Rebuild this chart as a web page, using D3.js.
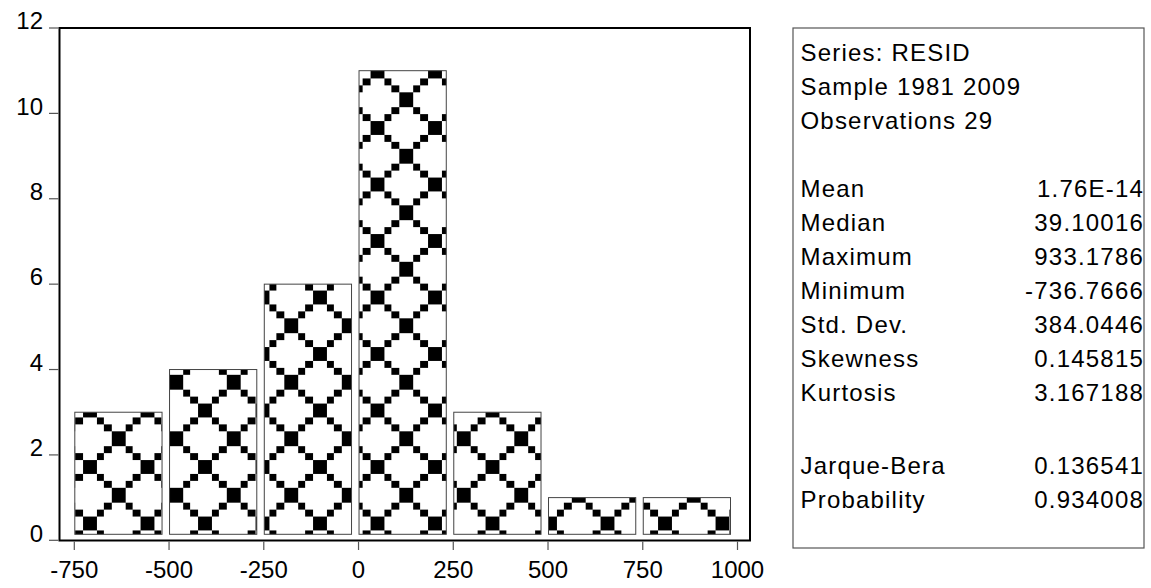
<!DOCTYPE html>
<html>
<head>
<meta charset="utf-8">
<script src="https://cdn.jsdelivr.net/npm/d3@7"></script>
<style>
  html, body { margin: 0; padding: 0; background: #fff; }
  svg { display: block; font-family: "Liberation Sans", Arial, sans-serif; }
</style>
</head>
<body>
<svg id="chart-svg" width="1151" height="588"></svg>
<script>
// Histogram data (residual bins)
const binStarts = [-750, -500, -250, 0, 250, 500, 750];
const binEnds = [-500, -250, 0, 250, 500, 750, 1000];
const counts = [3, 4, 6, 11, 3, 1, 1];

// Tick labels
const xTicks = [-750, -500, -250, 0, 250, 500, 750, 1000];
const yTicks = [0, 2, 4, 6, 8, 10, 12];

// Statistics box text
const headerLines = ["Series: RESID", "Sample 1981 2009", "Observations 29"];
const statLabels = ["Mean", "Median", "Maximum", "Minimum", "Std. Dev.", "Skewness", "Kurtosis"];
const statValues = ["1.76E-14", "39.10016", "933.1786", "-736.7666", "384.0446", "0.145815", "3.167188"];
const testLabels = ["Jarque-Bera", "Probability"];
const testValues = ["0.136541", "0.934008"];

const svg = d3.select('#chart-svg');

// Plot frame
const frame = {left: 59.5, right: 750, top: 28, bottom: 540.5};

// Scales
const xScale = d3.scaleLinear().domain([-750, 1000]).range([74.3, 737.5]);
const yScale = d3.scaleLinear().domain([0, 12]).range([540.3, 28]);

// Hatch pattern (diamond lattice of big squares joined by stepped small squares)
const W = 57.5, H = 56.5, big = 7.25;
const defs = svg.append("defs");
const pat = defs.append("pattern")
    .attr("id", "hatch")
    .attr("patternUnits", "userSpaceOnUse")
    .attr("x", 90).attr("y", 523.5)
    .attr("width", W).attr("height", H);

pat.append("rect").attr("width", W).attr("height", H).attr("fill", "#fff");

const squares = [];
// big squares at corners and centre
[[0, 0], [W, 0], [0, H], [W, H], [W / 2, H / 2]].forEach(([cx, cy]) => {
    squares.push({x: cx - big, y: cy - big, w: big * 2, h: big * 2});
});
// small squares along the four diagonals from centre to corners
const ax = (W / 2 - big * 2) / 2, ay = (H / 2 - big * 2) / 2;
[[1, 1], [-1, 1], [1, -1], [-1, -1]].forEach(([dx, dy]) => {
    for (let k = 0; k < 2; k++) {
        const ox = big + k * ax, oy = big + k * ay;
        const cx = dx > 0 ? ox : W - ox - ax;
        const cy = dy > 0 ? oy : H - oy - ay;
        squares.push({x: cx, y: cy, w: ax, h: ay});
    }
});
pat.selectAll("rect.sq")
    .data(squares)
    .join("rect")
    .attr("class", "sq")
    .attr("x", d => d.x).attr("y", d => d.y)
    .attr("width", d => d.w).attr("height", d => d.h)
    .attr("fill", "#000")
    .attr("shape-rendering", "crispEdges");

// Bars
const bins = counts.map((c, i) => ({x0: binStarts[i], x1: binEnds[i], count: c}));
svg.append("g")
    .selectAll("rect")
    .data(bins)
    .join("rect")
    .attr("x", d => xScale(d.x0) + 0.5)
    .attr("y", d => yScale(d.count))
    .attr("width", d => xScale(d.x1) - xScale(d.x0) - 7.5)
    .attr("height", d => yScale(0) - 6 - yScale(d.count))
    .attr("fill", "url(#hatch)")
    .attr("stroke", "#444")
    .attr("stroke-width", 1);

// Frame
svg.append("rect")
    .attr("x", frame.left).attr("y", frame.top)
    .attr("width", frame.right - frame.left)
    .attr("height", frame.bottom - frame.top)
    .attr("fill", "none")
    .attr("stroke", "#000")
    .attr("stroke-width", 2);

// Y axis ticks and labels
const yAxis = svg.append("g");
yAxis.selectAll("line")
    .data(yTicks)
    .join("line")
    .attr("x1", 49).attr("x2", frame.left - 1)
    .attr("y1", d => yScale(d)).attr("y2", d => yScale(d))
    .attr("stroke", "#555").attr("stroke-width", 1.2);
yAxis.selectAll("text")
    .data(yTicks)
    .join("text")
    .attr("x", 43)
    .attr("y", d => yScale(d) + 1.3)
    .attr("text-anchor", "end")
    .attr("font-size", 24)
    .attr("fill", "#000")
    .text(d => d);

// X axis ticks and labels
const xAxis = svg.append("g");
xAxis.selectAll("line")
    .data(xTicks)
    .join("line")
    .attr("x1", d => xScale(d)).attr("x2", d => xScale(d))
    .attr("y1", frame.bottom + 1).attr("y2", 550)
    .attr("stroke", "#555").attr("stroke-width", 1.2);
xAxis.selectAll("text")
    .data(xTicks)
    .join("text")
    .attr("x", d => xScale(d))
    .attr("y", 578)
    .attr("text-anchor", "middle")
    .attr("font-size", 24)
    .attr("fill", "#000")
    .text(d => d);

// Statistics box
const box = {left: 793, right: 1144, top: 28, bottom: 548};
svg.append("rect")
    .attr("x", box.left).attr("y", box.top)
    .attr("width", box.right - box.left)
    .attr("height", box.bottom - box.top)
    .attr("fill", "#fff")
    .attr("stroke", "#555")
    .attr("stroke-width", 1.2);

const lineH = 34;
const stats = svg.append("g")
    .attr("font-size", 24)
    .attr("letter-spacing", 1.2)
    .attr("fill", "#000");

stats.selectAll("text.head")
    .data(headerLines)
    .join("text")
    .attr("class", "head")
    .attr("x", 800.5)
    .attr("y", (d, i) => 60.7 + i * lineH)
    .text(d => d);

const statRows = statLabels.map((l, i) => ({label: l, value: statValues[i], y: 196.7 + i * lineH}))
    .concat(testLabels.map((l, i) => ({label: l, value: testValues[i], y: 474 + i * lineH})));

stats.selectAll("text.lab")
    .data(statRows)
    .join("text")
    .attr("class", "lab")
    .attr("x", 800.5)
    .attr("y", d => d.y)
    .text(d => d.label);

stats.selectAll("text.val")
    .data(statRows)
    .join("text")
    .attr("class", "val")
    .attr("x", 1144)
    .attr("y", d => d.y)
    .attr("text-anchor", "end")
    .text(d => d.value);
</script>
</body>
</html>
